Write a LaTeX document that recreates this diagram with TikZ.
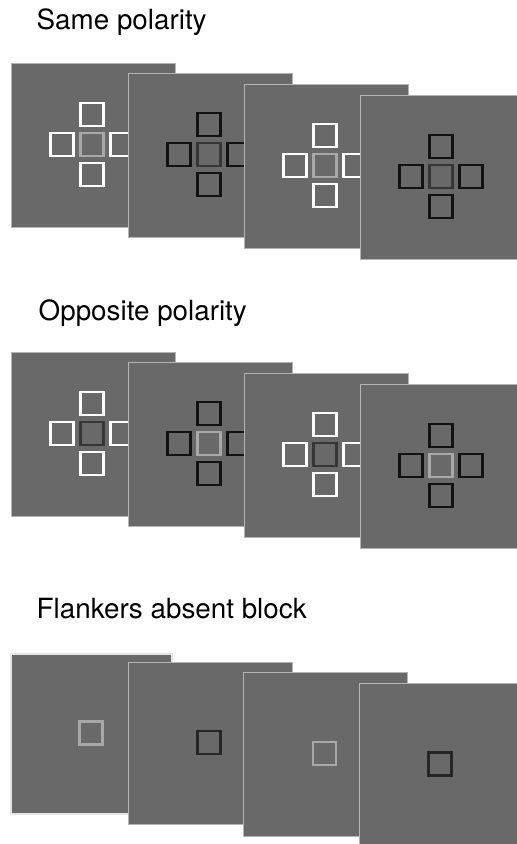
\documentclass[tikz,border=0pt]{standalone}
\usepackage{fontspec}
\setmainfont{TeX Gyre Heros}
\definecolor{panelgray}{HTML}{696969}
\definecolor{edgegray}{HTML}{B4B4B4}
\definecolor{lightc}{HTML}{A8A8A8}
\definecolor{darkc}{HTML}{363636}
\definecolor{darkcc}{HTML}{262626}
\definecolor{blackf}{HTML}{121212}
\tikzset{
  panel/.style={draw=edgegray, line width=0.8pt, fill=panelgray, minimum width=164pt, minimum height=164pt, inner sep=0pt, outer sep=0pt},
  stimbox/.style={draw=#1, line width=2.4pt, minimum size=23pt, inner sep=0pt, outer sep=0pt},
  title/.style={anchor=base west, inner sep=0pt, font=\fontsize{27.8}{33}\selectfont}
}
\newcommand{\crossstim}[5]{%
  \node[stimbox=#4] (#5c) at (#1,#2) {};
  \node[stimbox=#3] (#5t) at (#1,#2-30) {};
  \node[stimbox=#3] (#5b) at (#1,#2+30) {};
  \node[stimbox=#3] (#5l) at (#1-30,#2) {};
  \node[stimbox=#3] (#5r) at (#1+30,#2) {};
}
\newcommand{\singlestim}[4]{%
  \node[stimbox=#3] (#4c) at (#1,#2) {};
}
\begin{document}
\begin{tikzpicture}[x=1pt, y=-1pt]
\useasboundingbox (0,0) rectangle (517,844);
\clip (0,0) rectangle (517,844);
\fill[white] (0,0) rectangle (517,844);

% titles
\node[title] (t1) at (36.5,29.5) {Same polarity};
\node[title] (t2) at (38.5,320) {Opposite polarity};
\node[title] (t3) at (36.5,618) {Flankers absent block};

% Row 1: same polarity
\node[panel] (a1) at (93,145) {};
\crossstim{92}{144.5}{white}{lightc}{a1s}
\node[panel] (a2) at (210,155) {};
\crossstim{209}{154.5}{blackf}{darkc}{a2s}
\node[panel] (a3) at (326,166) {};
\crossstim{325}{165.5}{white}{lightc}{a3s}
\node[panel] (a4) at (442,177) {};
\crossstim{441}{176.5}{blackf}{darkc}{a4s}

% Row 2: opposite polarity
\node[panel] (b1) at (93,434) {};
\crossstim{92}{433.5}{white}{darkc}{b1s}
\node[panel] (b2) at (210,444) {};
\crossstim{209}{443.5}{blackf}{lightc}{b2s}
\node[panel] (b3) at (326,455) {};
\crossstim{325}{454.5}{white}{darkc}{b3s}
\node[panel] (b4) at (442,466) {};
\crossstim{441}{465.5}{blackf}{lightc}{b4s}

% Row 3: flankers absent
\node[panel, draw=white!90!black, line width=1.5pt, minimum width=161pt, minimum height=160pt] (c1) at (91.5,734) {};
\singlestim{91}{733}{lightc}{c1s}
\node[panel, minimum height=162pt] (c2) at (210,743) {};
\singlestim{209}{742.5}{darkcc}{c2s}
\node[panel] (c3) at (325,754) {};
\singlestim{324.5}{753.5}{lightc}{c3s}
\node[panel] (c4) at (441,765) {};
\singlestim{440}{764}{darkcc}{c4s}
\end{tikzpicture}
\end{document}
